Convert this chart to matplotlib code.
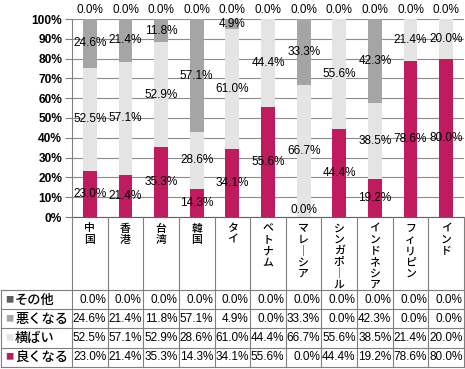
import matplotlib.pyplot as plt
from matplotlib.transforms import blended_transform_factory
from matplotlib.lines import Line2D

# data
countries = ['中国', '香港', '台湾', '韓国', 'タイ', 'ベトナム', 'マレーシア',
             'シンガポール', 'インドネシア', 'フィリピン', 'インド']
better = [23.0, 21.4, 35.3, 14.3, 34.1, 55.6, 0.0, 44.4, 19.2, 78.6, 80.0]
flat = [52.5, 57.1, 52.9, 28.6, 61.0, 44.4, 66.7, 55.6, 38.5, 21.4, 20.0]
worse = [24.6, 21.4, 11.8, 57.1, 4.9, 0.0, 33.3, 0.0, 42.3, 0.0, 0.0]
other = [0.0, 0.0, 0.0, 0.0, 0.0, 0.0, 0.0, 0.0, 0.0, 0.0, 0.0]

series_names = ['良くなる', '横ばい', '悪くなる', 'その他']
series_vals = [better, flat, worse, other]
colors = ['#C11B5F', '#E4E4E4', '#A5A5A5', '#5E5E5E']

W, H = 465, 369
JP = ['Noto Sans CJK JP', 'DejaVu Sans']
NUM = ['Liberation Sans', 'DejaVu Sans']

fig = plt.figure(figsize=(W / 100, H / 100), dpi=100)
fig.patch.set_facecolor('white')

def fy(py):
    return 1 - py / H

x0, x1 = 72, 464
y_top, y_bot = 19, 217
ax = fig.add_axes([x0 / W, fy(y_bot), (x1 - x0) / W, (y_bot - y_top) / H])

n = len(countries)
xs = list(range(n))
ax.set_xlim(-0.5, n - 0.5)
ax.set_ylim(0, 100)

bottom = [0.0] * n
drawn = set()
for vals, col in zip(series_vals, colors):
    ax.bar(xs, vals, width=0.39, bottom=bottom, color=col, zorder=2)
    for i, v in enumerate(vals):
        if v > 0:
            yc = bottom[i] + v / 2
        else:
            yc = bottom[i] + (4.5 if bottom[i] >= 99.9 else 3.5)
        key = (i, round(yc, 1))
        if key in drawn:
            continue  # zero labels stacked on the same spot
        drawn.add(key)
        ax.text(i, yc, f'{v:.1f}%', ha='center', va='center', fontsize=8.5,
                family=NUM, color='black', zorder=4)
    bottom = [b + v for b, v in zip(bottom, vals)]

ax.set_yticks(range(0, 101, 10))
ax.set_yticklabels([f'{t}%' for t in range(0, 101, 10)],
                   family=NUM, fontsize=8.6, fontweight='bold')
ax.set_xticks([])
ax.tick_params(axis='y', length=5, color='#808080', pad=2, width=0.8)
ax.grid(axis='y', color='#8C8C8C', linewidth=0.8, zorder=0)
ax.set_axisbelow(True)
for s in ['top', 'right']:
    ax.spines[s].set_visible(False)
ax.spines['left'].set_color('#808080')
ax.spines['bottom'].set_color('#606060')

# data table below the chart
tr = blended_transform_factory(ax.transData, fig.transFigure)
line_col = '#7F7F7F'
tbl_top = 290
row_h = 19.2
rows_bottom = tbl_top + 4 * row_h

for b in range(n + 1):
    fig.add_artist(Line2D([b - 0.5, b - 0.5], [fy(y_bot), fy(rows_bottom)],
                          transform=tr, color=line_col, linewidth=0.8))
for r in range(5):
    yy = fy(tbl_top + r * row_h)
    fig.add_artist(Line2D([1 / W, x1 / W], [yy, yy], transform=fig.transFigure,
                          color=line_col, linewidth=0.8))
fig.add_artist(Line2D([1 / W, 1 / W], [fy(tbl_top), fy(rows_bottom)],
                      transform=fig.transFigure, color=line_col, linewidth=0.8))

# vertical category labels
char_h = 11.3
for i, name in enumerate(countries):
    for k, ch in enumerate(name):
        if ch == 'ー':
            ch = '｜'
        fig.text(i, fy(228.5 + k * char_h), ch, transform=tr, ha='center',
                 va='center', fontsize=7.8, family=JP, fontweight='medium')

# rows: top row is その他
for r, idx in enumerate([3, 2, 1, 0]):
    yc = fy(tbl_top + (r + 0.5) * row_h)
    fig.text(5 / W, yc, '■', color=colors[idx], fontsize=6, va='center',
             ha='left', family=JP)
    fig.text(15 / W, yc, series_names[idx], fontsize=9.5, va='center',
             ha='left', family=JP, fontweight='medium')
    for i, v in enumerate(series_vals[idx]):
        fig.text(i + 0.46, yc, f'{v:.1f}%', transform=tr, ha='right',
                 va='center', fontsize=8.5, family=NUM)

fig.savefig('out.png', dpi=100)
